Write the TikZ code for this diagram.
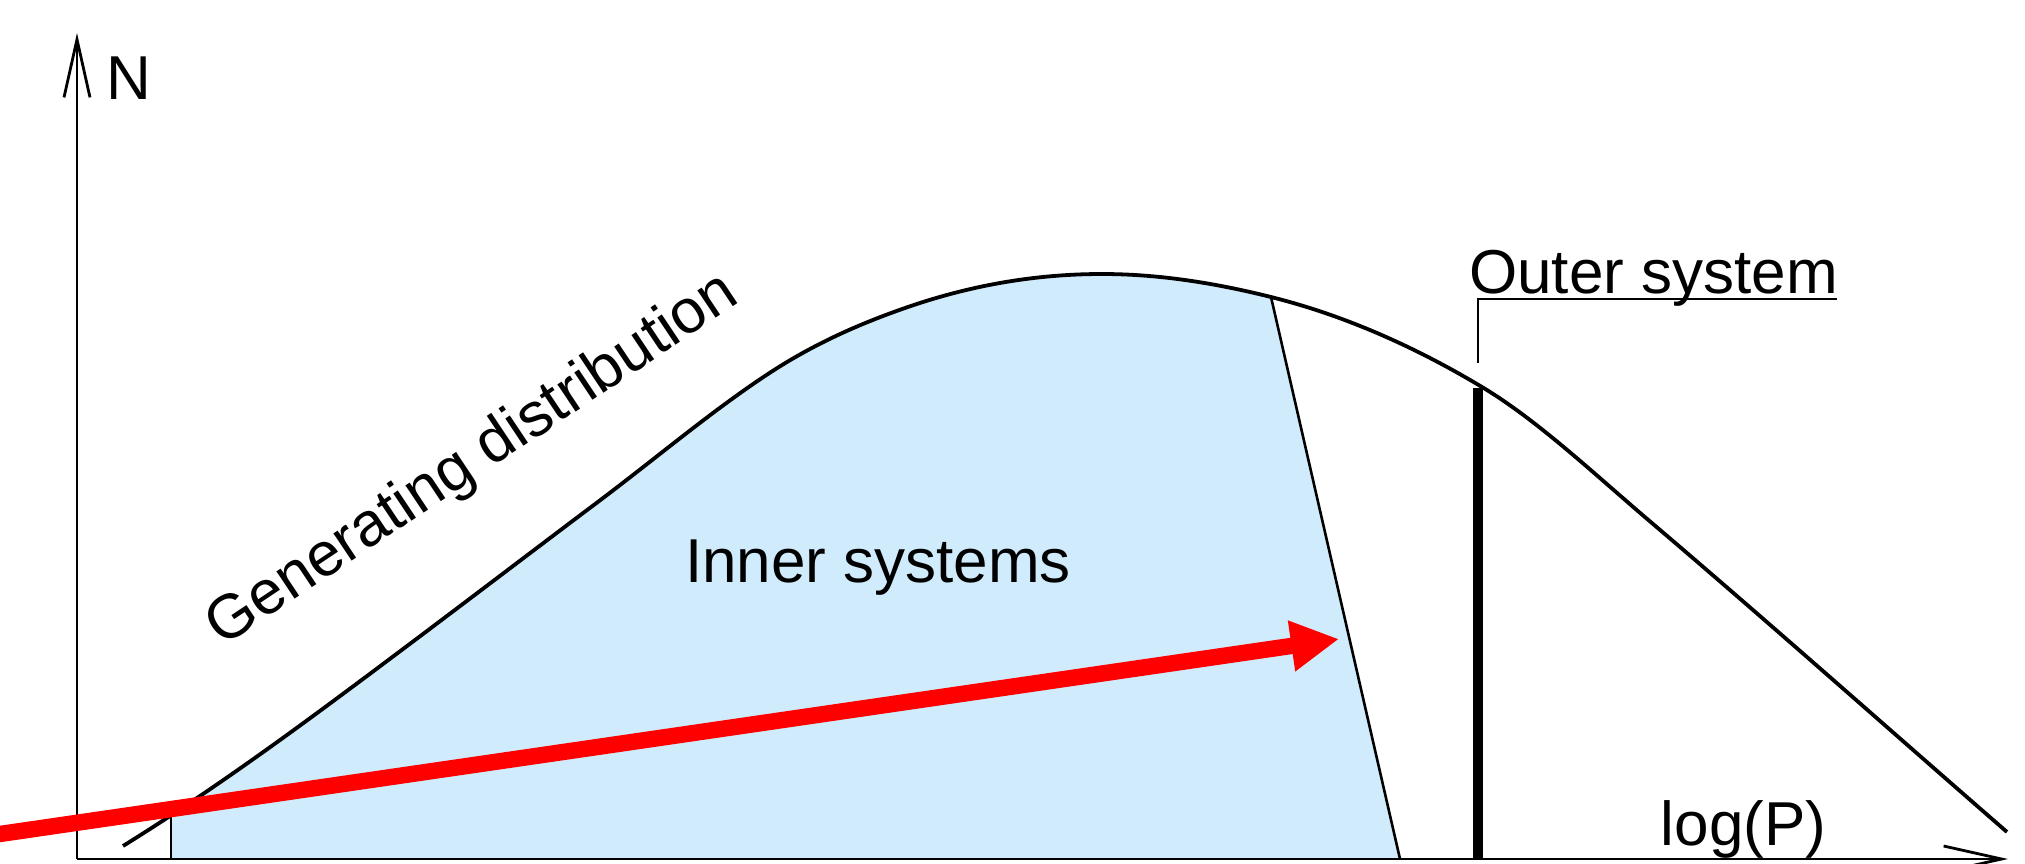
\documentclass[tikz,border=0pt]{standalone}
\usepackage{fontspec}
\setmainfont{Liberation Sans}
\usetikzlibrary{arrows.meta}
\definecolor{innerblue}{RGB}{208,235,252}
\definecolor{arrowred}{RGB}{255,0,0}
\tikzset{
  axisline/.style={line width=1.4pt, -{Straight Barb[length=29pt,width=13pt]}},
  distcurve/.style={line width=1.9pt, line join=round},
  boundline/.style={line width=1.3pt},
  outerline/.style={line width=4.8pt},
  leaderline/.style={line width=1.4pt},
  txt/.style={font=\fontsize{31}{37}\selectfont, inner sep=0pt, anchor=base},
  redarrow/.style={draw=arrowred, line width=8.2pt, -{Triangle[length=24pt,width=24pt]}},
}
\begin{document}
\begin{tikzpicture}[x=0.5pt,y=-0.5pt]
\useasboundingbox (0,0) rectangle (2025,863);
% key points
\coordinate (origin) at (77,859);
\coordinate (ytop) at (77,33);
\coordinate (xend) at (2008,859);
\coordinate (lbot) at (171,859);
\coordinate (ltop) at (171,816);
\coordinate (rtop) at (1271,297);
\coordinate (rbot) at (1400,859);
\coordinate (cstart) at (123,846);
\coordinate (cend) at (2007,832);
% shaded inner region
\begin{scope}
  \clip (171,859) -- (171,200) -- (1248.7,200) -- (1400,859) -- cycle;
  \fill[innerblue] (123,859) -- (cstart)
    .. controls (192.67,802.8) and (262.33,753.6) .. (332,702)
    .. controls (421.33,635.9) and (510.67,567.5) .. (600,500.3)
    .. controls (657,457.4) and (714,409.1) .. (771,372)
    .. controls (815.67,343) and (860.33,323.6) .. (905,308)
    .. controls (970.67,285) and (1036.33,274) .. (1102,274)
    .. controls (1158.33,274) and (1214.67,282.9) .. (1271,297)
    .. controls (1341.33,314.6) and (1411.67,344.8) .. (1482,387)
    .. controls (1538,420.6) and (1594,473.8) .. (1650,521.4)
    .. controls (1769,622.6) and (1888,728.5) .. (cend)
    -- (2007,859) -- cycle;
\end{scope}
% boundaries of inner region
\draw[boundline] (lbot) -- (ltop);
\draw[boundline] (rtop) -- (rbot);
% generating distribution
\draw[distcurve] (cstart)
    .. controls (192.67,802.8) and (262.33,753.6) .. (332,702)
    .. controls (421.33,635.9) and (510.67,567.5) .. (600,500.3)
    .. controls (657,457.4) and (714,409.1) .. (771,372)
    .. controls (815.67,343) and (860.33,323.6) .. (905,308)
    .. controls (970.67,285) and (1036.33,274) .. (1102,274)
    .. controls (1158.33,274) and (1214.67,282.9) .. (1271,297)
    .. controls (1341.33,314.6) and (1411.67,344.8) .. (1482,387)
    .. controls (1538,420.6) and (1594,473.8) .. (1650,521.4)
    .. controls (1769,622.6) and (1888,728.5) .. (cend);
% axes
\draw[axisline] (origin) -- (ytop);
\draw[axisline] (origin) -- (xend);
% outer system
\coordinate (obot) at (1478,859);
\coordinate (otop) at (1478,388);
\draw[outerline] (obot) -- (otop);
\coordinate (la) at (1478,363);
\coordinate (lb) at (1478,299);
\coordinate (lc) at (1837,299);
\draw[leaderline] (la) -- (lb) -- (lc);
% red arrow
\coordinate (rs) at (-20,836.9);
\coordinate (rt) at (1339,639);
\draw[redarrow] (rs) -- (rt);
% labels
\node[txt] (nlab) at (128.5,99) {N};
\node[txt] (inner) at (878,582) {Inner systems};
\node[txt] (logp) at (1743.5,845) {log(P)};
\node[txt] (outer) at (1653.5,293) {Outer system};
\node[txt, rotate=33.7] (gen) at (482,474.5) {Generating distribution};
\end{tikzpicture}
\end{document}
